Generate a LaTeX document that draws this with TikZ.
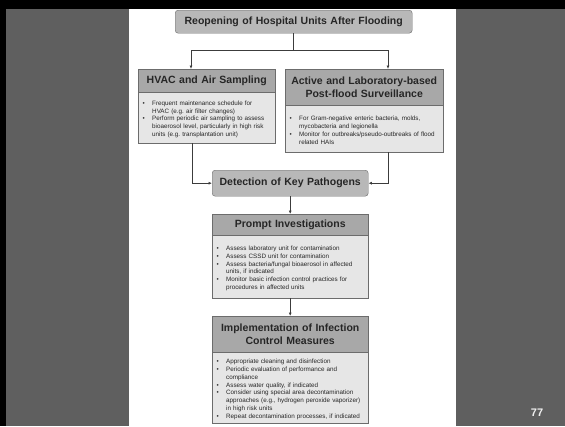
\documentclass[tikz,border=0pt]{standalone}
\usepackage{fontspec}
\setmainfont{Liberation Sans}
\usetikzlibrary{arrows.meta,positioning}
\definecolor{slidegray}{RGB}{95,95,95}
\definecolor{headgray}{RGB}{168,168,168}
\definecolor{titlegray}{RGB}{184,184,184}
\definecolor{bodygray}{RGB}{230,230,230}
\definecolor{boxline}{RGB}{108,108,108}
\definecolor{linkgray}{RGB}{60,60,60}
\definecolor{txtdark}{RGB}{38,38,38}
\newcommand{\bul}{\par\hangindent=9.5pt\hangafter=1\noindent\makebox[9.5pt][l]{\textbullet}}
\frenchspacing

\begin{document}
\begin{tikzpicture}[x=1pt, y=-1pt,
    headbox/.style={draw=boxline, fill=headgray, text=txtdark, align=center,
      font=\fontsize{10.5}{13}\selectfont\bfseries, inner xsep=2pt, inner ysep=1pt, anchor=north west},
    roundbox/.style={headbox, fill=titlegray, rounded corners=3pt},
    bodybox/.style={draw=boxline, fill=bodygray, text=txtdark,
      font=\fontsize{6.3}{7.8}\selectfont, inner xsep=4.5pt, inner ysep=1pt, anchor=north west},
    link/.style={draw=linkgray, line width=0.9pt},
    conn/.style={link, -{Latex[length=3.5pt,width=3pt]}}]
    % slide background
    \useasboundingbox (0,0) rectangle (565,426);
    \fill[slidegray] (0,0) rectangle (565,426);
    \fill[black] (0,0) rectangle (565,9);
    \fill[black] (0,0) rectangle (6,426);
    \fill[white] (129,9) rectangle (456,426);
    % boxes
    \node[roundbox, text width=233pt, minimum height=23pt] (title) at (175,10) {Reopening of Hospital Units After Flooding};
    \node[headbox, text width=133pt, minimum height=23pt] (hvachead) at (138,69) {HVAC and Air Sampling};
    \node[bodybox, text width=128pt, minimum height=51pt] (hvacbody) at (138,92) {\raggedright
      \bul Frequent maintenance schedule for\newline HVAC (e.g. air filter changes)
      \bul Perform periodic air sampling to assess\newline bioaerosol level, particularly in high risk\newline units (e.g. transplantation unit)\par};
    \node[headbox, text width=154pt, minimum height=36pt] (survhead) at (285,69) {Active and Laboratory-based\\Post-flood Surveillance};
    \node[bodybox, text width=149pt, minimum height=47pt] (survbody) at (285,105) {\raggedright
      \bul For Gram-negative enteric bacteria, molds,\newline mycobacteria and legionella
      \bul Monitor for outbreaks/pseudo-outbreaks of flood\newline related HAIs\par};
    \node[roundbox, text width=152pt, minimum height=26pt] (detect) at (212,170) {Detection of Key Pathogens};
    \node[headbox, text width=152pt, minimum height=21pt] (prompthead) at (212,214) {Prompt Investigations};
    \node[bodybox, text width=147pt, minimum height=63pt] (promptbody) at (212,235) {\raggedright
      \bul Assess laboratory unit for contamination
      \bul Assess CSSD unit for contamination
      \bul Assess bacteria/fungal bioaerosol in affected\newline units, if indicated
      \bul Monitor basic infection control practices for\newline procedures in affected units\par};
    \node[headbox, text width=152pt, minimum height=36pt] (implhead) at (212,316) {Implementation of Infection\\Control Measures};
    \node[bodybox, text width=147pt, minimum height=71pt] (implbody) at (212,352) {\raggedright
      \bul Appropriate cleaning and disinfection
      \bul Periodic evaluation of performance and\newline compliance
      \bul Assess water quality, if indicated
      \bul Consider using special area decontamination\newline approaches (e.g., hydrogen peroxide vaporizer)\newline in high risk units
      \bul Repeat decontamination processes, if indicated\par};
    \node[font=\fontsize{11}{11}\selectfont\bfseries, text=white!94!black] (pagenum) at (537,413) {77};
    % connectors
    \coordinate (hvacin) at (191,50);
    \coordinate (survin) at (388,50);
    \coordinate (hvacout) at (192,0);
    \coordinate (survout) at (388,0);
    \draw[link] (title.south) -- (title.south |- hvacin);
    \draw[link] (hvacin) -- (survin);
    \draw[conn] (hvacin) -- (hvacin |- hvachead.north);
    \draw[conn] (survin) -- (survin |- survhead.north);
    \draw[conn] (hvacout |- hvacbody.south) |- (detect.west);
    \draw[conn] (survout |- survbody.south) |- (detect.east);
    \draw[conn] (detect.south) -- (prompthead.north);
    \draw[conn] (promptbody.south) -- (implhead.north);
\end{tikzpicture}
\end{document}
